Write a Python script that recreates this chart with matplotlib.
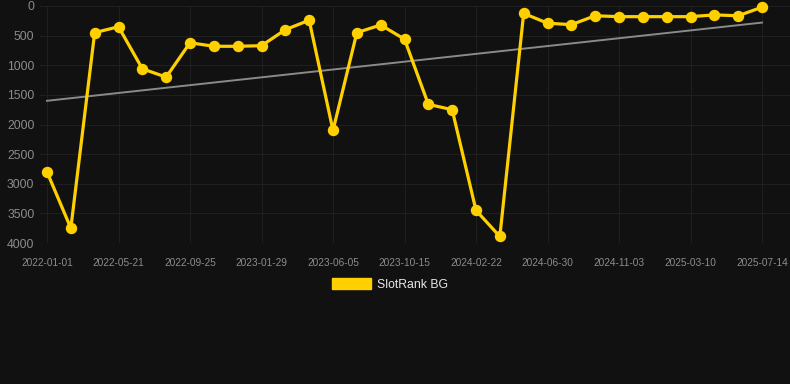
import numpy as np
import matplotlib
matplotlib.use("Agg")
import matplotlib.pyplot as plt
from matplotlib.patches import Patch

plt.rcParams['font.family'] = ['Liberation Sans', 'DejaVu Sans']

# data (one point per period, x is categorical)
ranks = [2800, 3750, 450, 350, 1060, 1200, 620, 680, 680, 670,
         400, 240, 2100, 450, 320, 560, 1660, 1750, 3450, 3890,
         125, 290, 315, 165, 180, 180, 180, 180, 150, 165, 20]
trend_ends = [1600, 280]
tick_labels = ["2022-01-01", "2022-05-21", "2022-09-25", "2023-01-29", "2023-06-05",
               "2023-10-15", "2024-02-22", "2024-06-30", "2024-11-03", "2025-03-10",
               "2025-07-14"]
y_ticks = [0, 500, 1000, 1500, 2000, 2500, 3000, 3500, 4000]

x = np.arange(len(ranks))
tick_pos = x[::3]

bg = "#111111"
yellow = "#FFD000"

fig = plt.figure(figsize=(7.9, 3.84), dpi=100, facecolor=bg)
ax = fig.add_axes([40 / 790, 1 - 243 / 384, 750 / 790, 237 / 384], facecolor=bg)

ax.plot([x[0], x[-1]], trend_ends, color="#8a8a8a", linewidth=1.4, zorder=2)
ax.plot(x, ranks, color=yellow, linewidth=2.3, marker="o", markersize=7.2,
        zorder=3, clip_on=False)

# 23.83 px per point, first point 7 px from the left edge
ppx = 715 / 30
ax.set_xlim(-7 / ppx, 30 + 28 / ppx)
ax.set_ylim(4000, 0)
ax.set_yticks(y_ticks)
ax.set_xticks(tick_pos)
ax.set_xticklabels(tick_labels)

ax.grid(True, color="#1f1f1f", linewidth=0.8)
for s in ax.spines.values():
    s.set_visible(False)
ax.tick_params(axis="y", length=0, labelsize=8.8, labelcolor="#8c8c8c", pad=4)
ax.tick_params(axis="x", length=0, labelsize=7.3, labelcolor="#8c8c8c", pad=11)

handle = Patch(facecolor=yellow, edgecolor=yellow)
fig.legend([handle], ["SlotRank BG"], loc="center", bbox_to_anchor=(390 / 790, 1 - 284.5 / 384),
           frameon=False, fontsize=8.8, labelcolor="#e8e8e8",
           handlelength=3.2, handleheight=0.95, handletextpad=0.5)

fig.savefig("out.png", dpi=100, facecolor=bg)
